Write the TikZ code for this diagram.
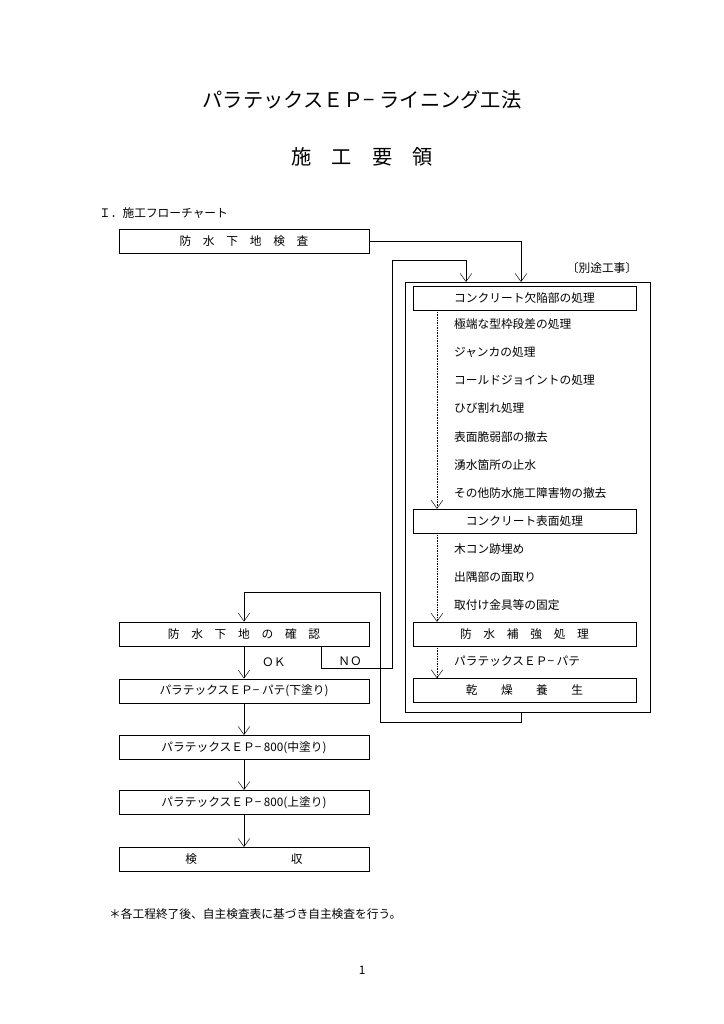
\documentclass[tikz,border=0pt]{standalone}
\usepackage{fontspec}
\setmainfont{Noto Sans CJK JP}
\usetikzlibrary{positioning,arrows.meta,calc}
\tikzset{>={Straight Barb[length=7pt,width=10pt]}}

\begin{document}
\begin{tikzpicture}[x=0.03cm,y=-0.03cm,
    flowbox/.style={draw,thick,minimum width=7.5cm,minimum height=0.72cm,inner sep=0pt,font=\normalsize},
    sub/.style={draw,minimum width=6.69cm,minimum height=0.72cm,inner sep=0pt,font=\normalsize},
    item/.style={anchor=west,font=\normalsize},
    dot/.style={->,densely dotted}]
  \useasboundingbox (0,0) rectangle (724,1024);

  \node[font=\LARGE] (title) at (362,100) {パラテックスＥＰ− ライニング工法};
  \node[font=\LARGE] (sub1) at (362,157) {施　工　要　領};
  \node[anchor=west] (head) at (95,213) {Ｉ．施工フローチャート};

  % left column
  \node[flowbox] (s1) at (244,241.5) {防　水　下　地　検　査};
  \node[flowbox] (s2) at (244,634) {防　水　下　地　の　確　認};
  \node[flowbox] (s3) at (244,691) {パラテックスＥＰ− パテ(下塗り)};
  \node[flowbox] (s4) at (244,747.5) {パラテックスＥＰ− 800(中塗り)};
  \node[flowbox] (s5) at (244,802.5) {パラテックスＥＰ− 800(上塗り)};
  \node[flowbox] (s6) at (244,859.5) {検\hspace{8em}収};

  % right column
  \draw[thick] (405,282) rectangle (650,712);
  \coordinate (bx) at (521,282);
  \coordinate (bl) at (466,282);
  \coordinate (bb) at (521,712);
  \node (sep) at (602,268) {〔別途工事〕};
  \node[sub] (r1) at (524.5,298) {コンクリート欠陥部の処理};
  \node[sub] (r2) at (524.5,521) {コンクリート表面処理};
  \node[sub] (r3) at (524.5,634) {防　水　補　強　処　理};
  \node[sub] (r4) at (524.5,690.5) {乾　　燥　　養　　生};

  \node[item] (i1) at (450,324) {極端な型枠段差の処理};
  \node[item] (i2) at (450,352) {ジャンカの処理};
  \node[item] (i3) at (450,380) {コールドジョイントの処理};
  \node[item] (i4) at (450,408) {ひび割れ処理};
  \node[item] (i5) at (450,437) {表面脆弱部の撤去};
  \node[item] (i6) at (450,465) {湧水箇所の止水};
  \node[item] (i7) at (450,493) {その他防水施工障害物の撤去};
  \node[item] (i8) at (450,549) {木コン跡埋め};
  \node[item] (i9) at (450,577) {出隅部の面取り};
  \node[item] (i10) at (450,605) {取付け金具等の固定};
  \node[item] (i11) at (450,661) {パラテックスＥＰ− パテ};

  \draw[dot] (r1.south -| 437,0) -- (r2.north -| 437,0);
  \draw[dot] (r2.south -| 437,0) -- (r3.north -| 437,0);
  \draw[dot] (r3.south -| 437,0) -- (r4.north -| 437,0);

  % connectors
  \draw[->] (s1.east) -| (bx);
  \draw[->] (s2.south) -- node[right=12pt] {ＯＫ} (s3.north);
  \draw[->] (s3) -- (s4);
  \draw[->] (s4) -- (s5);
  \draw[->] (s5) -- (s6);
  \coordinate (no) at (321,646);
  \node (nolab) at (350,661) {ＮＯ};
  \draw[->] (no) |- (392,668) |- (466,260) -- (bl);
  \draw[->] (bb) -- (521,722) -| (380,592) -| (s2.north);

  \node[anchor=west] (note) at (105,914) {＊各工程終了後、自主検査表に基づき自主検査を行う。};
  \node (page) at (362,970) {1};
\end{tikzpicture}
\end{document}
